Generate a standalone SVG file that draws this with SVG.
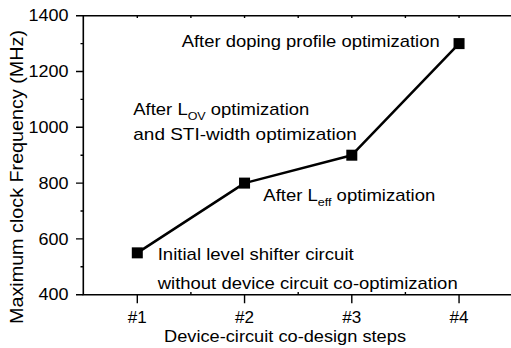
<svg xmlns="http://www.w3.org/2000/svg" width="511" height="348" viewBox="0 0 511 348">
<style>
text{font-family:"Liberation Sans",Arial,sans-serif;fill:#000}
.lbl{font-size:17px}
.tick{font-size:17px}
.sub{font-size:11.5px}
.ax{stroke:#000;stroke-width:1.6;fill:none}
.tk{stroke:#000;stroke-width:1.4}
.series{stroke:#000;stroke-width:2.5;fill:none;stroke-linejoin:round}
.pt{fill:#000}
</style>
<rect width="511" height="348" fill="#fff"/>
<g id="axes">
<path class="ax" d="M511,15.7 H83.3 V294.7 H511"/>
<g id="y-ticks">
<path class="tk" d="M76,294.7H83.3M76,238.9H83.3M76,183.1H83.3M76,127.3H83.3M76,71.5H83.3M76,15.7H83.3"/>
<path class="tk" d="M80.5,266.8H83.3M80.5,211H83.3M80.5,155.2H83.3M80.5,99.4H83.3M80.5,43.6H83.3"/>
</g>
<g id="x-ticks">
<path class="tk" d="M137.3,294.7V303.3M244.55,294.7V303.3M351.8,294.7V303.3M459.05,294.7V303.3"/>
<path class="tk" d="M190.9,294.7V292M298.2,294.7V292M405.4,294.7V292"/>
<path class="tk" d="M137.3,15.7V18M190.9,15.7V18M244.55,15.7V18M298.2,15.7V18M351.8,15.7V18M405.4,15.7V18M459.05,15.7V18"/>
</g>
<g id="y-labels" text-anchor="end">
<text class="tick" x="68.5" y="300.4" textLength="30" lengthAdjust="spacingAndGlyphs">400</text>
<text class="tick" x="68.5" y="244.6" textLength="30" lengthAdjust="spacingAndGlyphs">600</text>
<text class="tick" x="68.5" y="188.8" textLength="30" lengthAdjust="spacingAndGlyphs">800</text>
<text class="tick" x="68.5" y="133" textLength="40" lengthAdjust="spacingAndGlyphs">1000</text>
<text class="tick" x="68.5" y="77.2" textLength="40" lengthAdjust="spacingAndGlyphs">1200</text>
<text class="tick" x="68.5" y="21.4" textLength="40" lengthAdjust="spacingAndGlyphs">1400</text>
</g>
<g id="x-labels" text-anchor="middle">
<text class="tick" x="137.3" y="322.7" textLength="19" lengthAdjust="spacingAndGlyphs">#1</text>
<text class="tick" x="244.55" y="322.7" textLength="19" lengthAdjust="spacingAndGlyphs">#2</text>
<text class="tick" x="351.8" y="322.7" textLength="19" lengthAdjust="spacingAndGlyphs">#3</text>
<text class="tick" x="459.05" y="322.7" textLength="19" lengthAdjust="spacingAndGlyphs">#4</text>
</g>
<text id="x-title" class="lbl" x="164" y="341.5" textLength="242" lengthAdjust="spacingAndGlyphs">Device-circuit co-design steps</text>
<text id="y-title" style="font-size:18px" transform="translate(23.3,177) rotate(-90)" text-anchor="middle" textLength="294" lengthAdjust="spacingAndGlyphs">Maximum clock Frequency (MHz)</text>
</g>
<g id="connectors">
<polyline class="series" points="137.3,252.85 244.55,183.1 351.8,155.2 459.05,43.6"/>
</g>
<g id="p1"><rect class="pt" x="131.8" y="247.35" width="11" height="11"/></g>
<g id="p2"><rect class="pt" x="239.05" y="177.6" width="11" height="11"/></g>
<g id="p3"><rect class="pt" x="346.3" y="149.7" width="11" height="11"/></g>
<g id="p4"><rect class="pt" x="453.55" y="38.1" width="11" height="11"/></g>
<g id="labels">
<text id="t4" class="lbl" x="181.7" y="46.7" textLength="258" lengthAdjust="spacingAndGlyphs">After doping profile optimization</text>
<text id="t3a" class="lbl" x="133.3" y="115" textLength="176" lengthAdjust="spacingAndGlyphs">After L<tspan class="sub" dy="5">OV</tspan><tspan dy="-5"> optimization</tspan></text>
<text id="t3b" class="lbl" x="133.3" y="139.5" textLength="223.5" lengthAdjust="spacingAndGlyphs">and STI-width optimization</text>
<text id="t2" class="lbl" x="263.3" y="201" textLength="172" lengthAdjust="spacingAndGlyphs">After L<tspan class="sub" dy="5">eff</tspan><tspan dy="-5"> optimization</tspan></text>
<text id="t1a" class="lbl" x="157.7" y="260" textLength="196" lengthAdjust="spacingAndGlyphs">Initial level shifter circuit</text>
<text id="t1b" class="lbl" x="157.7" y="289.3" textLength="300" lengthAdjust="spacingAndGlyphs">without device circuit co-optimization</text>
</g>
</svg>
